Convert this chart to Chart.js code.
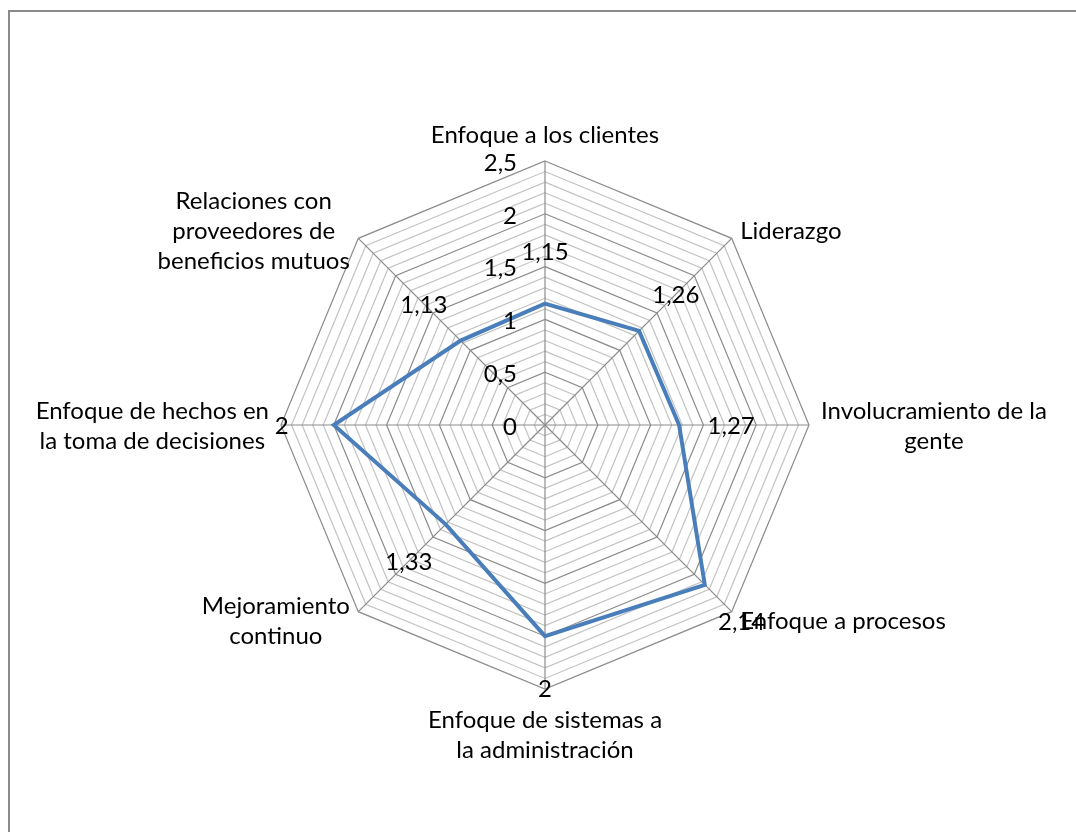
<!DOCTYPE html>
<html lang="es">
<head>
<meta charset="utf-8">
<title>Principios de gestión de la calidad</title>
<script src="https://cdn.jsdelivr.net/npm/chart.js@4.4.1/dist/chart.umd.min.js"></script>
<style>
    html, body { margin: 0; padding: 0; background: #fff; overflow: hidden; }
    #frame {
        position: absolute; left: 8px; top: 10px; width: 1200px; height: 1000px;
        border-top: 2px solid #8a8a8a; border-left: 2px solid #8a8a8a;
    }
    #radarChart { position: absolute; left: 0; top: 0; }
</style>
</head>
<body>
<div id="frame"></div>
<canvas id="radarChart" width="1076" height="832"></canvas>
<script>
// Categories (each entry is the list of lines the name is broken into)
const categories = [
    ['Enfoque a los clientes'],
    ['Liderazgo'],
    ['Involucramiento de la', 'gente'],
    ['Enfoque a procesos'],
    ['Enfoque de sistemas a', 'la administración'],
    ['Mejoramiento', 'continuo'],
    ['Enfoque de hechos en', 'la toma de decisiones'],
    ['Relaciones con', 'proveedores de', 'beneficios mutuos']
];
const scores = [1.15, 1.26, 1.27, 2.14, 2, 1.33, 2, 1.13];
const tickValues = [0, 0.5, 1, 1.5, 2, 2.5];
const scaleMax = 2.5;
const gridStep = 0.1;

const LABEL_FONT = '24px Lato, "Open Sans", sans-serif';
const LINE_HEIGHT = 30;

function formatNumber(v) {
    return String(v).replace('.', ',');
}

function isMajor(v) {
    return Math.abs(v * 2 - Math.round(v * 2)) < 1e-6;
}

// Draws the axis numbers, the category names and the value labels
const radarLabels = {
    id: 'radarLabels',
    afterDraw(chart) {
        const scale = chart.scales.r;
        const ctx = chart.ctx;
        ctx.save();
        ctx.font = LABEL_FONT;
        ctx.fillStyle = '#000';

        // axis numbers, left of the first spoke
        ctx.textAlign = 'right';
        ctx.textBaseline = 'middle';
        tickValues.forEach(v => {
            const y = scale.yCenter - scale.getDistanceFromCenterForValue(v);
            ctx.fillText(formatNumber(v), scale.xCenter - 28, y + 2);
        });

        // category names outside the outer ring
        ctx.textAlign = 'center';
        categories.forEach((lines, i) => {
            const pos = scale.getPointPosition(i, scale.drawingArea + 12);
            const dx = pos.x - scale.xCenter;
            const dy = pos.y - scale.yCenter;
            const blockW = Math.max(...lines.map(l => ctx.measureText(l).width));
            const blockH = lines.length * LINE_HEIGHT;
            let cx = pos.x;
            if (dx > 1) cx = pos.x + blockW / 2;
            else if (dx < -1) cx = pos.x - blockW / 2;
            let top = pos.y - blockH / 2;
            if (Math.abs(dx) <= 1) top = dy < 0 ? pos.y - blockH : pos.y + 3;
            lines.forEach((line, k) => {
                ctx.fillText(line, cx, top + LINE_HEIGHT / 2 + k * LINE_HEIGHT + 1);
            });
        });

        // value labels, pushed out along each spoke
        scores.forEach((v, i) => {
            const pos = scale.getPointPosition(i, scale.getDistanceFromCenterForValue(v) + 52);
            ctx.fillText(formatNumber(v), pos.x, pos.y + 1);
        });
        ctx.restore();
    }
};

document.addEventListener('DOMContentLoaded', () => {
    renderChart();
});

function renderChart() {
    const ctx = document.getElementById('radarChart').getContext('2d');
    new Chart(ctx, {
        type: 'radar',
        data: {
            labels: categories,
            datasets: [{
                label: 'Puntaje',
                data: scores,
                borderColor: '#4a7ebb',
                borderWidth: 4,
                fill: false,
                pointRadius: 0,
                pointHoverRadius: 0,
                tension: 0,
                borderJoinStyle: 'miter'
            }]
        },
        options: {
            responsive: false,
            animation: false,
            layout: { padding: { left: 281, right: 267, top: 161, bottom: 143 } },
            plugins: {
                legend: { display: false },
                tooltip: { enabled: false }
            },
            scales: {
                r: {
                    min: 0,
                    max: scaleMax,
                    ticks: { stepSize: gridStep, display: false },
                    pointLabels: { display: false },
                    angleLines: { color: '#8c8c8c', lineWidth: 1.2 },
                    grid: {
                        lineWidth: 1.2,
                        color: c => isMajor(c.tick.value) ? '#8c8c8c' : '#c3c3c3'
                    }
                }
            }
        },
        plugins: [radarLabels]
    });
}
</script>
</body>
</html>
